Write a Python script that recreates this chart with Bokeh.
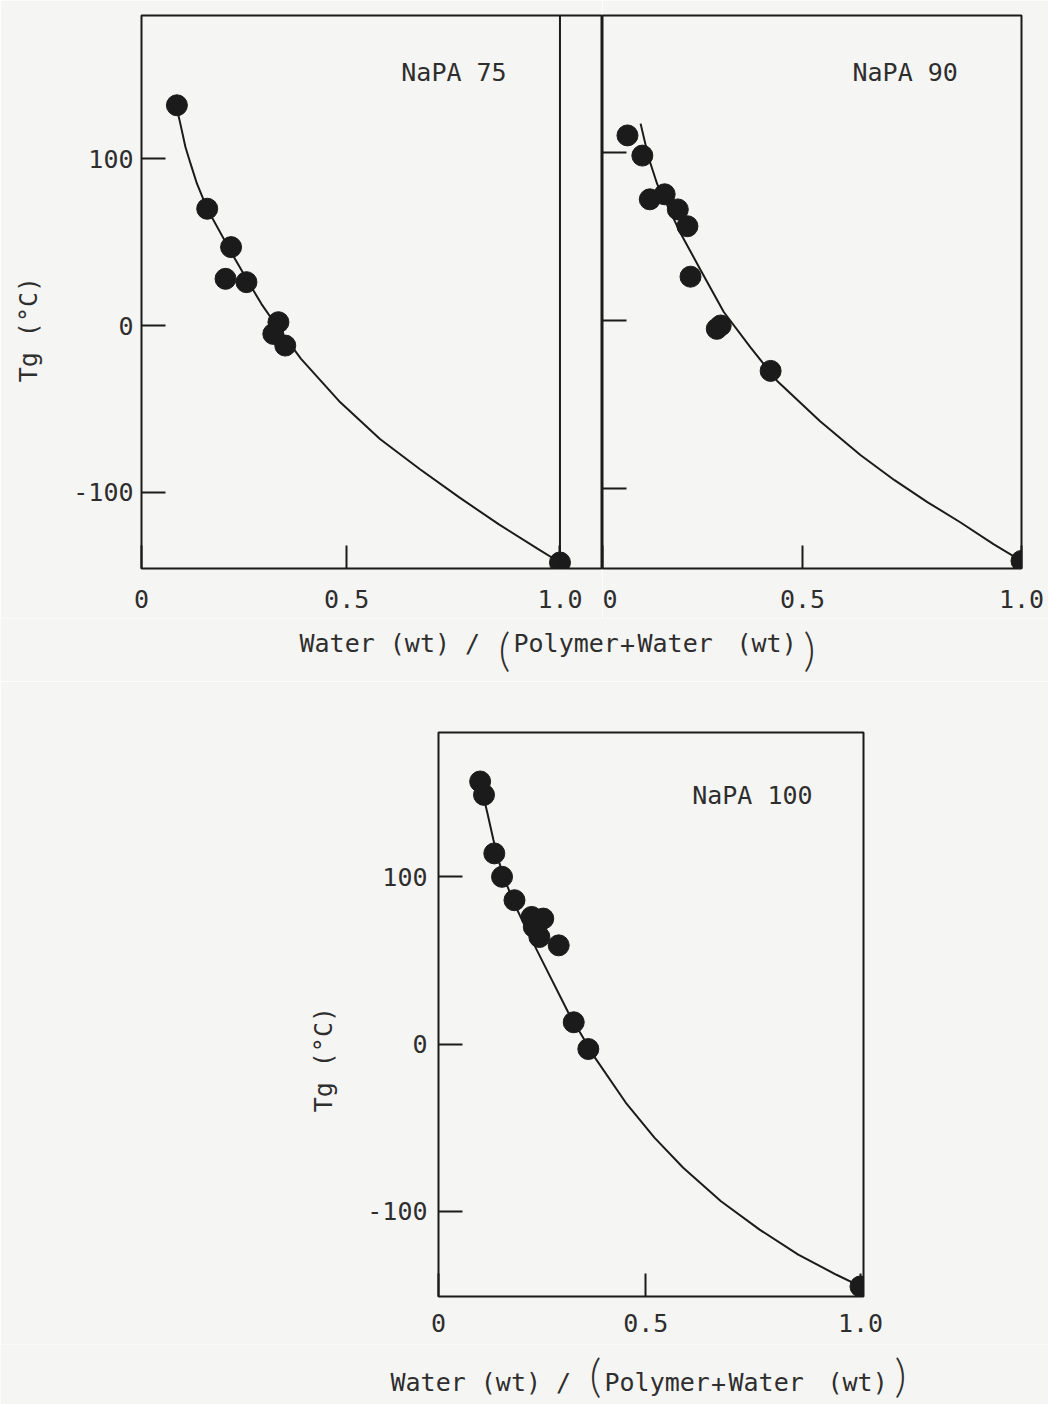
import math
from bokeh.plotting import figure
from bokeh.models import Range1d, FixedTicker, Span, Label, CustomJSTickFormatter
from bokeh.layouts import column, row
from bokeh.embed import file_html
from bokeh.resources import INLINE

# ---------------- data ----------------
# NaPA 75
napa75_w = [0.102, 0.173, 0.229, 0.216, 0.265, 0.340, 0.328, 0.356, 1.0]
napa75_tg = [132, 70, 47, 28, 26, 2, -5, -12, -142]
napa75_fit_w = [0.10, 0.110, 0.122, 0.134, 0.149, 0.173, 0.229, 0.265, 0.30, 0.338, 0.393, 0.485, 0.578, 0.671, 0.764, 0.856, 0.949, 1.0]
napa75_fit_tg = [132, 121, 107, 97, 85, 70, 44, 28, 13, -1, -20, -46, -68, -86, -103, -119, -134, -142]

# NaPA 90
napa90_w = [0.100, 0.134, 0.151, 0.185, 0.215, 0.237, 0.244, 0.304, 0.313, 0.427, 1.0]
napa90_tg = [110, 98, 72, 75, 66, 56, 26, -5, -3, -30, -143]
napa90_fit_w = [0.13, 0.148, 0.168, 0.221, 0.267, 0.32, 0.381, 0.442, 0.54, 0.632, 0.71, 0.785, 0.86, 0.936, 1.0]
napa90_fit_tg = [117, 97, 81, 52, 30, 5, -16, -36, -60, -80, -95, -108, -120, -133, -143]

# NaPA 100
napa100_w = [0.114, 0.123, 0.147, 0.165, 0.194, 0.234, 0.261, 0.239, 0.252, 0.297, 0.332, 0.366, 1.0]
napa100_tg = [157, 149, 114, 100, 86, 76, 75, 70, 64, 59, 13, -3, -145]
napa100_fit_w = [0.118, 0.131, 0.145, 0.159, 0.175, 0.19, 0.221, 0.266, 0.319, 0.381, 0.453, 0.52, 0.587, 0.675, 0.765, 0.855, 0.944, 1.0]
napa100_fit_tg = [152, 138, 122, 108, 96, 86, 69, 46, 19, -8, -35, -56, -74, -94, -111, -126, -138, -145]

y_ticks = [-100, 0, 100]
y_tick_labels = ["-100", "0", "100"]
x_tick_values = [0.5, 1.0]
x_tick_labels = ["0", "0.5", "1.0"]
panel_names = ["NaPA 75", "NaPA 90", "NaPA 100"]
y_title = "Tg (°C)"
x_title_parts = ["Water (wt) /", "(", "Polymer", "+", "Water", "(wt)", ")"]

# ---------------- style ----------------
FONT = "DejaVu Sans Mono"
PAREN_FONT = "Lato Light"
BG = "#f5f5f3"
INK = "#1b1b1b"
TXT = "#2e2e2e"
FS = "25px"
NBSP = "\u00a0"


def make_panel(xr, yr, fw, fh, mbl, mbr, mbt, mbb, show_ylabels, xstandoff, ystandoff,
               ytitle_pad=0, ytitle_standoff=0):
    p = figure(x_range=Range1d(*xr), y_range=Range1d(*yr),
               frame_width=fw, frame_height=fh,
               min_border_left=mbl, min_border_right=mbr,
               min_border_top=mbt, min_border_bottom=mbb,
               output_backend="svg", toolbar_location=None,
               background_fill_color=BG, border_fill_color=BG)
    p.grid.visible = False
    p.outline_line_color = INK
    p.outline_line_width = 2

    xa = p.xaxis[0]
    ticks = [xr[0]] + x_tick_values
    xa.ticker = FixedTicker(ticks=ticks)
    xa.major_label_overrides = {t: lab for t, lab in zip(ticks, x_tick_labels)}
    xa.major_tick_in = 23
    xa.major_tick_out = 0
    xa.minor_tick_line_color = None
    xa.axis_line_color = None
    xa.major_tick_line_color = INK
    xa.major_tick_line_width = 2
    xa.major_label_text_font = FONT
    xa.major_label_text_font_size = FS
    xa.major_label_text_color = TXT
    xa.major_label_standoff = xstandoff

    ya = p.yaxis[0]
    ya.ticker = FixedTicker(ticks=y_ticks)
    ya.major_tick_in = 24
    ya.major_tick_out = 0
    ya.minor_tick_line_color = None
    ya.axis_line_color = None
    ya.major_tick_line_color = INK
    ya.major_tick_line_width = 2
    if show_ylabels:
        ya.major_label_overrides = {t: lab for t, lab in zip(y_ticks, y_tick_labels)}
        ya.major_label_text_font = FONT
        ya.major_label_text_font_size = FS
        ya.major_label_text_color = TXT
        ya.major_label_standoff = ystandoff
        # trailing no-break spaces move the centred title down along the axis
        ya.axis_label = y_title + NBSP * ytitle_pad
        ya.axis_label_text_font = FONT
        ya.axis_label_text_font_size = FS
        ya.axis_label_text_font_style = "normal"
        ya.axis_label_text_color = TXT
        ya.axis_label_standoff = ytitle_standoff
    else:
        ya.formatter = CustomJSTickFormatter(code="return ''")
        ya.major_label_standoff = 0
        ya.major_label_text_font_size = "0px"
    return p


def add_data(p, w, tg, fw_, ftg):
    p.line(fw_, ftg, line_color=INK, line_width=2)
    p.scatter(w, tg, size=21, fill_color=INK, line_color=INK)


def add_name(p, x, y, text):
    p.add_layout(Label(x=x, y=y, text=text, text_font=FONT, text_font_size="25px",
                       text_color=TXT, text_align="left", text_baseline="middle"))


# ---- top-left: NaPA 75 ----
fL = make_panel((0.019, 1.0997), (-145.6, 185.8), 461, 553, 141, 0, 15, 50, True, 21, 8,
                ytitle_pad=5, ytitle_standoff=27)
fL.add_layout(Span(location=1.0, dimension="height", line_color=INK, line_width=2))
add_data(fL, napa75_w, napa75_tg, napa75_fit_w, napa75_fit_tg)
add_name(fL, 0.628, 151.5, panel_names[0])

# ---- top-right: NaPA 90 ----
fR = make_panel((0.043, 1.0), (-147.5, 181.3), 419, 553, 0, 27, 15, 50, False, 21, 0)
add_data(fR, napa90_w, napa90_tg, napa90_fit_w, napa90_fit_tg)
add_name(fR, 0.614, 147.5, panel_names[1])

# ---- bottom: NaPA 100 ----
fB = make_panel((0.017, 1.007), (-151.0, 186.3), 425, 564, 438, 185, 51, 48, True, 17, 11,
                ytitle_pad=6, ytitle_standoff=26)
add_data(fB, napa100_w, napa100_tg, napa100_fit_w, napa100_fit_tg)
add_name(fB, 0.608, 148.6, panel_names[2])


def make_strip(W, H, x0, mid, pmid):
    s = figure(width=W, height=H, x_range=Range1d(0, W), y_range=Range1d(0, H),
               min_border=0, x_axis_location=None, y_axis_location=None,
               toolbar_location=None, output_backend="svg",
               background_fill_color=BG, border_fill_color=BG)
    s.grid.visible = False
    s.outline_line_color = None
    offsets = [0, 205, 214, 328, 338, 437, 510]
    aligns = ["left", "center", "left", "center", "left", "left", "center"]
    for txt, dx, al in zip(x_title_parts, offsets, aligns):
        big = txt in ("(", ")")
        s.add_layout(Label(x=x0 + dx, y=pmid if big else mid, text=txt,
                           text_font=PAREN_FONT if big else FONT,
                           text_font_size="46px" if big else FS,
                           text_color=TXT, text_align=al, text_baseline="middle"))
    return s


strip1 = make_strip(1048, 63, 299, 38, 33)
strip2 = make_strip(1048, 60, 390, 22, 30)

layout = column(row(fL, fR), row(strip1), row(fB), row(strip2))

open("out.html", "w").write(file_html(layout, INLINE, title="Tg vs water content"))
